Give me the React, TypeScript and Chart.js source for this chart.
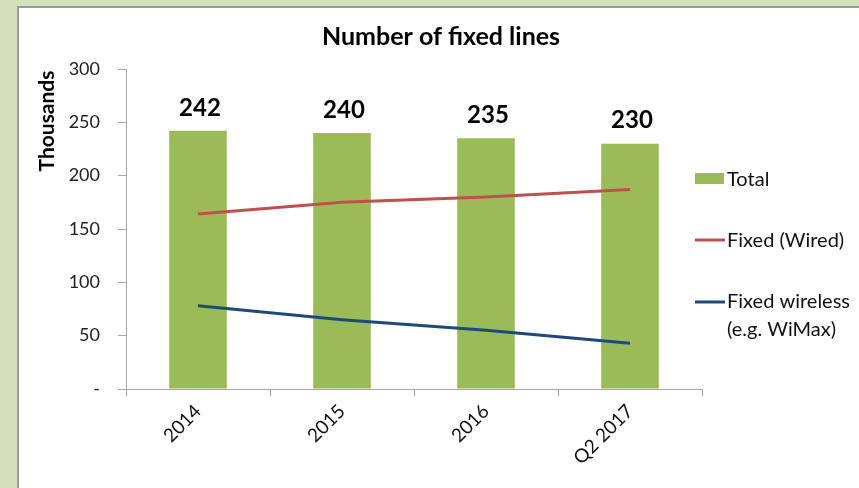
import React, { useEffect, useRef } from "react";
import { Chart, registerables } from "chart.js";

Chart.register(...registerables);

const categories = ["2014", "2015", "2016", "Q2 2017"];
const totalValues = [242, 240, 235, 230];
const wiredValues = [164, 175, 180, 187];
const wirelessValues = [78, 65, 55, 43];
const yTicks = [0, 50, 100, 150, 200, 250, 300];

const FONT = "Lato, 'Open Sans', sans-serif";
const BAR = "#9bbb59";
const RED = "#c0504d";
const BLUE = "#1f497d";

const panelPlugin = {
  id: "panel",
  beforeDraw(chart: any) {
    const { ctx, width, height } = chart;
    ctx.save();
    ctx.fillStyle = "#d5e0bc";
    ctx.fillRect(0, 0, width, height);
    ctx.fillStyle = "#ffffff";
    ctx.fillRect(18, 7, width - 18, height - 7);
    ctx.strokeStyle = "#9a9a9a";
    ctx.lineWidth = 2;
    ctx.beginPath();
    ctx.moveTo(18, height);
    ctx.lineTo(18, 7);
    ctx.lineTo(width, 7);
    ctx.stroke();
    ctx.restore();
  },
};

const decorPlugin = {
  id: "decor",
  afterDraw(chart: any) {
    const { ctx } = chart;
    ctx.save();
    // title
    ctx.fillStyle = "#000";
    ctx.font = `bold 25px ${FONT}`;
    ctx.textAlign = "center";
    ctx.textBaseline = "middle";
    ctx.fillText("Number of fixed lines", 441, 37);
    // y axis title
    ctx.save();
    ctx.translate(47, 121);
    ctx.rotate(-Math.PI / 2);
    ctx.font = `bold 21px ${FONT}`;
    ctx.fillText("Thousands", 0, 0);
    ctx.restore();
    // data labels
    const meta = chart.getDatasetMeta(0);
    ctx.font = `bold 24px ${FONT}`;
    meta.data.forEach((el: any, i: number) => {
      ctx.fillText(String(totalValues[i]), el.x + 2, el.y - 23);
    });
    // legend
    ctx.textAlign = "left";
    ctx.font = `20px ${FONT}`;
    ctx.fillStyle = BAR;
    ctx.fillRect(695, 173, 29, 11);
    ctx.fillStyle = "#111";
    ctx.fillText("Total", 727, 180);
    ctx.strokeStyle = RED;
    ctx.lineWidth = 3;
    ctx.beginPath();
    ctx.moveTo(695, 240);
    ctx.lineTo(725, 240);
    ctx.stroke();
    ctx.fillText("Fixed (Wired)", 727, 241);
    ctx.strokeStyle = BLUE;
    ctx.beginPath();
    ctx.moveTo(695, 302);
    ctx.lineTo(725, 302);
    ctx.stroke();
    ctx.fillText("Fixed wireless", 727, 302);
    ctx.fillText("(e.g. WiMax)", 727, 330);
    ctx.restore();
  },
};

export default function App() {
  const ref = useRef<HTMLCanvasElement | null>(null);
  useEffect(() => {
    document.body.style.margin = "0";
    const chart = new Chart(ref.current as HTMLCanvasElement, {
      type: "bar",
      data: {
        labels: categories,
        datasets: [
          {
            type: "bar",
            label: "Total",
            data: totalValues,
            backgroundColor: BAR,
            borderWidth: 0,
            barPercentage: 0.8,
            categoryPercentage: 0.5,
            order: 2,
          },
          {
            type: "line",
            label: "Fixed (Wired)",
            data: wiredValues,
            borderColor: RED,
            backgroundColor: RED,
            borderWidth: 3,
            pointRadius: 0,
            tension: 0,
            order: 1,
          },
          {
            type: "line",
            label: "Fixed wireless (e.g. WiMax)",
            data: wirelessValues,
            borderColor: BLUE,
            backgroundColor: BLUE,
            borderWidth: 3,
            pointRadius: 0,
            tension: 0,
            order: 0,
          },
        ] as any,
      },
      options: {
        animation: false,
        responsive: false,
        maintainAspectRatio: false,
        layout: { padding: { left: 0, right: 157, top: 69, bottom: 0 } },
        plugins: {
          legend: { display: false },
          title: { display: false },
          tooltip: { enabled: false },
        },
        scales: {
          x: {
            offset: true,
            grid: {
              offset: true,
              drawOnChartArea: false,
              drawTicks: true,
              tickLength: 7,
              color: "#a6a6a6",
            },
            border: { color: "#a6a6a6", width: 1 },
            ticks: {
              minRotation: 45,
              maxRotation: 45,
              padding: 4,
              color: "#111",
              font: { family: FONT, size: 19 },
            },
            afterFit: (s: any) => {
              s.height = 99;
            },
          },
          y: {
            min: 0,
            max: 300,
            afterBuildTicks: (s: any) => {
              s.ticks = yTicks.map((v) => ({ value: v }));
            },
            grid: {
              drawOnChartArea: false,
              drawTicks: true,
              tickLength: 8,
              color: "#a6a6a6",
            },
            border: { color: "#a6a6a6", width: 1 },
            ticks: {
              padding: 18,
              color: "#222",
              font: { family: FONT, size: 18 },
              callback: (v: any) => (Number(v) === 0 ? "-" : String(v)),
            },
            afterFit: (s: any) => {
              s.width = 126;
            },
          },
        },
      },
      plugins: [panelPlugin, decorPlugin],
    });
    return () => chart.destroy();
  }, []);
  return <canvas ref={ref} width={859} height={488} style={{ display: "block" }} />;
}
